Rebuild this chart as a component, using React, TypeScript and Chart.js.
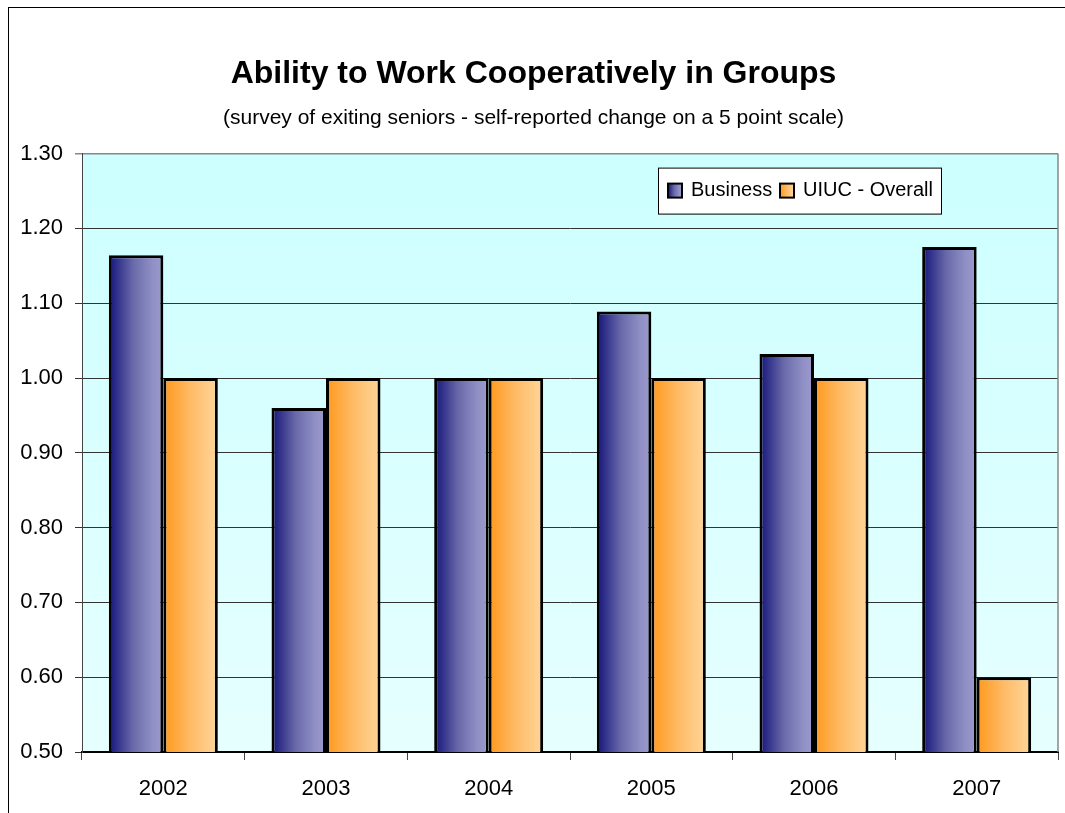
import React, { useEffect, useRef } from "react";
import { Chart, registerables } from "chart.js";

Chart.register(...registerables);

// ---- data ----
const categories = ["2002", "2003", "2004", "2005", "2006", "2007"];
const businessValues = [1.164, 0.96, 1.0, 1.089, 1.032, 1.175];
const uiucValues = [1.0, 1.0, 1.0, 1.0, 1.0, 0.6];
const seriesLabels = ["Business", "UIUC - Overall"];
const yTickValues = [0.5, 0.6, 0.7, 0.8, 0.9, 1.0, 1.1, 1.2, 1.3];
const titleText = "Ability to Work Cooperatively in Groups";
const subtitleText = "(survey of exiting seniors - self-reported change on a 5 point scale)";

// ---- styles ----
const FONT = "'Liberation Sans', Arial, sans-serif";
const CAT_PCT = 0.67;
const businessStops: [number, string][] = [
  [0, "#14147a"],
  [0.45, "#6a6aaa"],
  [0.8, "#9090c6"],
  [1, "#9a9acc"],
];
const uiucStops: [number, string][] = [
  [0, "#ff981c"],
  [0.5, "#ffbb66"],
  [1, "#ffd69a"],
];

function makeGradient(c: CanvasRenderingContext2D, x0: number, x1: number, stops: [number, string][]) {
  const g = c.createLinearGradient(x0, 0, x1, 0);
  stops.forEach(([o, col]) => g.addColorStop(o, col));
  return g;
}

function barFill(dsIndex: number, stops: [number, string][]) {
  return (ctx: any) => {
    const chart = ctx.chart;
    const area = chart.chartArea;
    const xs = chart.scales && chart.scales.x;
    if (!area || !xs || ctx.dataIndex === undefined) return stops[stops.length - 1][1];
    const center = xs.getPixelForValue(ctx.dataIndex);
    const catW = area.width / categories.length;
    const barW = (catW * CAT_PCT) / 2;
    const left = dsIndex === 0 ? center - barW : center;
    return makeGradient(chart.ctx, left, left + barW, stops);
  };
}

const plotBackground = {
  id: "plotBackground",
  beforeDraw(chart: any) {
    const { ctx, chartArea: a } = chart;
    if (!a) return;
    ctx.save();
    const g = ctx.createLinearGradient(0, a.top, 0, a.bottom);
    g.addColorStop(0, "#ccffff");
    g.addColorStop(1, "#e6ffff");
    ctx.fillStyle = g;
    ctx.fillRect(a.left, a.top, a.right - a.left, a.bottom - a.top);
    ctx.restore();
  },
  beforeDatasetsDraw(chart: any) {
    const { ctx, chartArea: a } = chart;
    ctx.save();
    ctx.strokeStyle = "#888888";
    ctx.lineWidth = 1.5;
    ctx.beginPath();
    ctx.moveTo(a.right, a.top);
    ctx.lineTo(a.right, a.bottom);
    ctx.stroke();
    ctx.restore();
  },
};

const insideLegend = {
  id: "insideLegend",
  afterDraw(chart: any) {
    const { ctx, chartArea: a } = chart;
    const bx = a.left + 576;
    const by = a.top + 14;
    const bw = 283;
    const bh = 46;
    ctx.save();
    ctx.fillStyle = "#ffffff";
    ctx.fillRect(bx, by, bw, bh);
    ctx.strokeStyle = "#000000";
    ctx.lineWidth = 1;
    ctx.strokeRect(bx + 0.5, by + 0.5, bw, bh);
    const items = [
      { label: seriesLabels[0], stops: businessStops, x: bx + 10 },
      { label: seriesLabels[1], stops: uiucStops, x: bx + 122 },
    ];
    ctx.font = `20px ${FONT}`;
    ctx.textBaseline = "middle";
    ctx.textAlign = "left";
    const cy = by + 23;
    items.forEach((it) => {
      const sx = it.x;
      const sy = cy - 7;
      ctx.fillStyle = makeGradient(ctx, sx, sx + 14, it.stops);
      ctx.fillRect(sx, sy, 14, 14);
      ctx.lineWidth = 2;
      ctx.strokeStyle = "#000";
      ctx.strokeRect(sx, sy, 14, 14);
      ctx.fillStyle = "#000";
      ctx.fillText(it.label, sx + 23, cy);
    });
    ctx.restore();
  },
};

export default function App() {
  const ref = useRef<HTMLCanvasElement | null>(null);

  useEffect(() => {
    if (!ref.current) return;
    const chart = new Chart(ref.current, {
      type: "bar",
      data: {
        labels: categories,
        datasets: [
          {
            label: seriesLabels[0],
            data: businessValues,
            backgroundColor: barFill(0, businessStops) as any,
            borderColor: "#000000",
            borderWidth: 3,
            categoryPercentage: CAT_PCT,
            barPercentage: 1,
          },
          {
            label: seriesLabels[1],
            data: uiucValues,
            backgroundColor: barFill(1, uiucStops) as any,
            borderColor: "#000000",
            borderWidth: 3,
            categoryPercentage: CAT_PCT,
            barPercentage: 1,
          },
        ],
      },
      options: {
        responsive: false,
        animation: false,
        layout: { padding: { left: 0, right: 21, top: 0, bottom: 26 } },
        plugins: {
          legend: { display: false },
          tooltip: { enabled: false },
          title: {
            display: true,
            text: titleText,
            color: "#000",
            font: { family: FONT, size: 32, weight: "bold" },
            padding: { top: 47, bottom: 12 },
          },
          subtitle: {
            display: true,
            text: subtitleText,
            color: "#000",
            font: { family: FONT, size: 21 },
            padding: { top: 0, bottom: 23 },
          },
        },
        scales: {
          x: {
            grid: {
              display: true,
              drawOnChartArea: false,
              drawTicks: true,
              tickLength: 8,
              color: "#444",
              offset: true,
            },
            border: { display: true, color: "#000", width: 2 },
            ticks: { color: "#000", font: { family: FONT, size: 22 }, padding: 16 },
            afterFit: (s: any) => {
              s.height = 60;
            },
          },
          y: {
            min: 0.5,
            max: 1.3,
            afterBuildTicks: (s: any) => {
              s.ticks = yTickValues.map((v) => ({ value: v }));
            },
            ticks: {
              color: "#000",
              font: { family: FONT, size: 22 },
              padding: 12,
              callback: (v: any) => Number(v).toFixed(2),
            },
            grid: {
              color: (c: any) => (c.tick && c.tick.value >= 1.299 ? "#888" : "#333"),
              lineWidth: (c: any) => (c.tick && c.tick.value >= 1.299 ? 1.5 : 1),
              tickLength: 7,
              drawTicks: true,
            },
            border: { display: true, color: "#444", width: 1 },
            afterFit: (s: any) => {
              s.width = 73;
            },
          },
        },
      },
      plugins: [plotBackground, insideLegend],
    });
    return () => chart.destroy();
  }, []);

  return (
    <div
      style={{
        position: "fixed",
        left: 8,
        top: 7,
        width: 1070,
        height: 830,
        border: "1px solid #000",
        background: "#fff",
        overflow: "hidden",
      }}
    >
      <canvas ref={ref} width={1070} height={830} style={{ display: "block", width: 1070, height: 830 }} />
    </div>
  );
}
